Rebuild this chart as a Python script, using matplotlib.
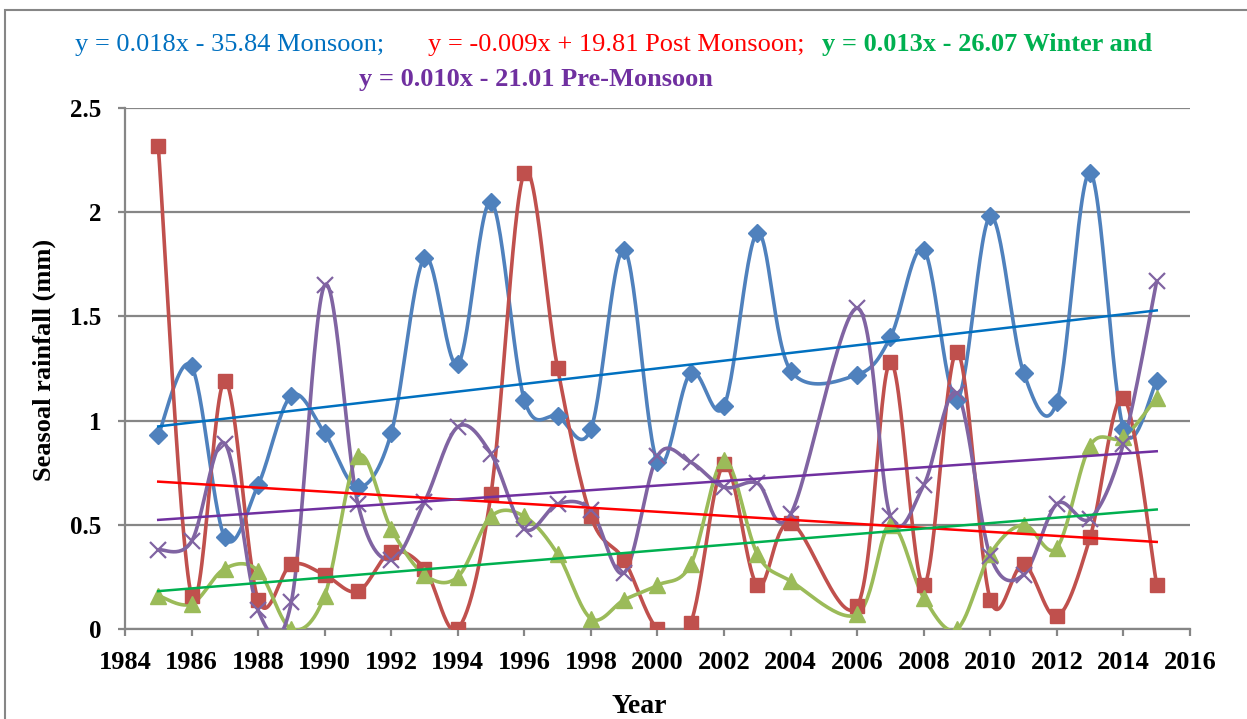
import matplotlib
matplotlib.use("Agg")
import matplotlib.pyplot as plt
import numpy as np
from matplotlib.patches import Rectangle

plt.rcParams["font.family"] = ["Liberation Serif", "DejaVu Serif"]

# seasonal rainfall per year (2005 has no record)
YEARS = list(range(1985, 2016))
nan = np.nan
MONSOON = [0.93, 1.26, 0.44, 0.69, 1.12, 0.94, 0.68, 0.94, 1.78, 1.27, 2.05,
           1.10, 1.02, 0.96, 1.82, 0.80, 1.23, 1.07, 1.90, 1.24, nan, 1.22,
           1.40, 1.82, 1.10, 1.98, 1.23, 1.09, 2.19, 0.96, 1.19]
POST_MONSOON = [2.32, 0.16, 1.19, 0.14, 0.31, 0.26, 0.18, 0.37, 0.29, 0.00, 0.65,
                2.19, 1.25, 0.54, 0.33, 0.00, 0.03, 0.79, 0.21, 0.51, nan, 0.11,
                1.28, 0.21, 1.33, 0.14, 0.31, 0.06, 0.44, 1.11, 0.21]
WINTER = [0.16, 0.12, 0.29, 0.28, 0.00, 0.16, 0.83, 0.48, 0.26, 0.25, 0.54,
          0.54, 0.36, 0.05, 0.14, 0.21, 0.31, 0.81, 0.36, 0.23, nan, 0.07,
          0.50, 0.15, 0.00, 0.36, 0.50, 0.39, 0.88, 0.92, 1.11]
PRE_MONSOON = [0.38, 0.42, 0.89, 0.09, 0.13, 1.65, 0.60, 0.33, 0.61, 0.97, 0.84,
               0.48, 0.60, 0.57, 0.27, 0.83, 0.80, 0.68, 0.70, 0.55, nan, 1.54,
               0.54, 0.69, 1.13, 0.35, 0.26, 0.60, 0.53, 0.89, 1.67]

SERIES = [
    (MONSOON, "#4F81BD", "D", 9, "#0070C0"),
    (POST_MONSOON, "#C0504D", "s", 10, "#FF0000"),
    (WINTER, "#9BBB59", "^", 11, "#00B050"),
    (PRE_MONSOON, "#8064A2", "x", 11, "#7030A0"),
]


def smooth(x, y, n=30):
    """Excel-like smoothed line (Catmull-Rom as cubic Bezier)."""
    p = np.column_stack([x, y])
    ext = np.vstack([p[0], p, p[-1]])
    t = np.linspace(0, 1, n)[:, None]
    out = []
    for i in range(1, len(ext) - 2):
        p0, p3 = ext[i], ext[i + 1]
        c1 = p0 + (ext[i + 1] - ext[i - 1]) / 6
        c2 = p3 - (ext[i + 2] - ext[i]) / 6
        seg = ((1 - t) ** 3) * p0 + 3 * ((1 - t) ** 2) * t * c1 + 3 * (1 - t) * t ** 2 * c2 + t ** 3 * p3
        out.append(seg)
    out = np.vstack(out)
    return out[:, 0], out[:, 1]


fig = plt.figure(figsize=(12.47, 7.19), dpi=100)
ax = fig.add_axes([0.1002, 0.1252, 0.8541, 0.7246])

yrs = np.array(YEARS, dtype=float)
for vals, color, marker, ms, tcolor in SERIES:
    v = np.array(vals, dtype=float)
    ok = ~np.isnan(v)
    sx, sy = smooth(yrs[ok], v[ok])
    ax.plot(sx, sy, color=color, linewidth=2.6, zorder=3)
    if marker == "x":
        ax.plot(yrs[ok], v[ok], linestyle="none", marker=marker, markersize=ms,
                markeredgewidth=1.6, color=color, zorder=4)
    else:
        ax.plot(yrs[ok], v[ok], linestyle="none", marker=marker, markersize=ms,
                color=color, markeredgecolor=color, zorder=4)

# linear trend lines
for vals, color, marker, ms, tcolor in SERIES:
    v = np.array(vals, dtype=float)
    ok = ~np.isnan(v)
    k, b = np.polyfit(yrs[ok], v[ok], 1)
    tx = np.array([YEARS[0], YEARS[-1]], dtype=float)
    ax.plot(tx, k * tx + b, color=tcolor, linewidth=1.8, zorder=5)

ax.set_xlim(1984, 2016)
ax.set_ylim(0, 2.5)
ax.set_xticks(np.arange(1984, 2017, 2))
ax.set_yticks([0, 0.5, 1, 1.5, 2, 2.5])
ax.set_yticklabels(["0", "0.5", "1", "1.5", "2", "2.5"])
ax.yaxis.grid(True, color="#868686", linewidth=1.6)
ax.set_axisbelow(True)
for s in ["top", "right"]:
    ax.spines[s].set_visible(False)
for s in ["left", "bottom"]:
    ax.spines[s].set_color("#868686")
    ax.spines[s].set_linewidth(1.6)
ax.tick_params(axis="both", colors="#868686", length=5, width=1.6, direction="out")
ax.tick_params(axis="x", pad=11)
ax.tick_params(axis="y", pad=12)
for lab in ax.get_xticklabels():
    lab.set_color("black")
    lab.set_fontsize(19)
    lab.set_fontweight("bold")
for lab in ax.get_yticklabels():
    lab.set_color("black")
    lab.set_fontsize(18)
    lab.set_fontweight("bold")

fig.text(0.5125, 0.009, "Year", fontsize=20, fontweight="bold", ha="center", va="baseline")
fig.text(0.0353, 0.499, "Seasoal rainfall (mm)", fontsize=19, fontweight="bold",
         rotation=90, ha="center", va="center")

fig.text(0.060, 0.938, "y = 0.018x - 35.84 Monsoon;", color="#0070C0", fontsize=19, va="center")
fig.text(0.343, 0.938, "y = -0.009x + 19.81 Post Monsoon;", color="#FF0000", fontsize=19, va="center")
fig.text(0.659, 0.938, "y = 0.013x - 26.07 Winter and", color="#00B050", fontsize=19,
         fontweight="bold", va="center")
fig.text(0.288, 0.889, "y = 0.010x - 21.01 Pre-Monsoon", color="#7030A0", fontsize=19,
         fontweight="bold", va="center")

fig.patches.append(Rectangle((0.004, -0.01), 1.1, 0.996, transform=fig.transFigure,
                             fill=False, edgecolor="#868686", linewidth=1.5))

fig.savefig("out.png", dpi=100)
